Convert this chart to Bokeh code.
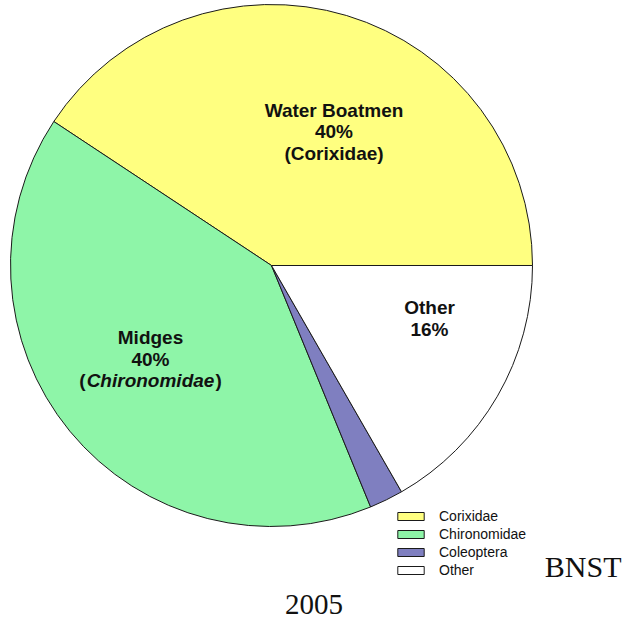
import math
from bokeh.plotting import figure
from bokeh.models import Range1d, ColumnDataSource, Legend, LegendItem
from bokeh.core.properties import value
from bokeh.embed import file_html
from bokeh.resources import INLINE

# ---- data ----
categories = ["Corixidae", "Chironomidae", "Coleoptera", "Other"]
shares = [40.7, 40.5, 2.1, 16.7]
common_names = ["Water Boatmen", "Midges", "", "Other"]
pct_labels = ["40%", "40%", "", "16%"]
colors = ["#FFFF80", "#8EF5A8", "#7F7FC0", "#FFFFFF"]
site = "BNST"
year = "2005"

# ---- layout ----
W, H = 629, 624
p = figure(width=W, height=H, x_range=Range1d(0, W), y_range=Range1d(-H, 0),
           output_backend="svg", toolbar_location=None, min_border=0)
p.axis.visible = False
p.grid.visible = False
p.outline_line_color = None
p.background_fill_color = "white"
p.border_fill_color = "white"

total = sum(shares)
starts, ends = [], []
acc = 0.0
for v in shares:
    starts.append(2 * math.pi * acc / total)
    acc += v
    ends.append(2 * math.pi * acc / total)

src = ColumnDataSource(dict(cat=categories, start=starts, end=ends, color=colors))
CX, CY, R = 271, -265, 261
wr = p.wedge(x=CX, y=CY, radius=R, start_angle="start", end_angle="end",
             fill_color="color", line_color="#1a1a1a", line_width=1, source=src)

legend = Legend(items=[LegendItem(label=c, renderers=[wr], index=i) for i, c in enumerate(categories)],
                location=(394, 46), padding=0, margin=0, spacing=2,
                glyph_width=33, glyph_height=10, label_height=16, label_standoff=12,
                label_text_font="Liberation Sans", label_text_font_size="14px",
                label_text_color="#111111",
                border_line_color=None, background_fill_alpha=0)
p.add_layout(legend)


def baseline(y, fs):
    # empirical correction so that the alphabetic baseline lands at page row y
    return -(y - 0.42 * fs)


SANS = value("Liberation Sans")
FSN = 19
FS = f"{FSN}px"
LH = 21.5
# label anchors (x centre, first baseline), per slice
anchors = {0: (333.5, 117.7), 1: (150, 345), 3: (429, 315)}

for i, (x0, y0) in anchors.items():
    p.text(x=[x0, x0], y=[baseline(y0, FSN), baseline(y0 + LH, FSN)],
           text=[common_names[i], pct_labels[i]],
           text_font=SANS, text_font_size=FS, text_font_style="bold",
           text_align="center", text_baseline="alphabetic", text_color="#111111")

# scientific names in parentheses (third line)
x0, y0 = anchors[0]
p.text(x=[x0], y=[baseline(y0 + 2 * LH, FSN)], text=["(" + categories[0] + ")"],
       text_font=SANS, text_font_size=FS, text_font_style="bold",
       text_align="center", text_baseline="alphabetic", text_color="#111111")
x1, y1 = anchors[1]
half = 64
yb = baseline(y1 + 2 * LH, FSN)
p.text(x=[x1], y=[yb], text=[categories[1]],
       text_font=SANS, text_font_size=FS, text_font_style="bold italic",
       text_align="center", text_baseline="alphabetic", text_color="#111111")
p.text(x=[x1 - half - 1], y=[yb], text=["("],
       text_font=SANS, text_font_size=FS, text_font_style="bold",
       text_align="right", text_baseline="alphabetic", text_color="#111111")
p.text(x=[x1 + half + 1], y=[yb], text=[")"],
       text_font=SANS, text_font_size=FS, text_font_style="bold",
       text_align="left", text_baseline="alphabetic", text_color="#111111")

SERIF = value("Liberation Serif")
p.text(x=[621], y=[baseline(579, 30)], text=[site], text_font=SERIF, text_font_size="30px",
       text_align="right", text_baseline="alphabetic", text_color="#111111")
p.text(x=[313.5], y=[baseline(616, 29)], text=[year], text_font=SERIF, text_font_size="29px",
       text_align="center", text_baseline="alphabetic", text_color="#111111")

open("out.html", "w").write(file_html(p, INLINE))
